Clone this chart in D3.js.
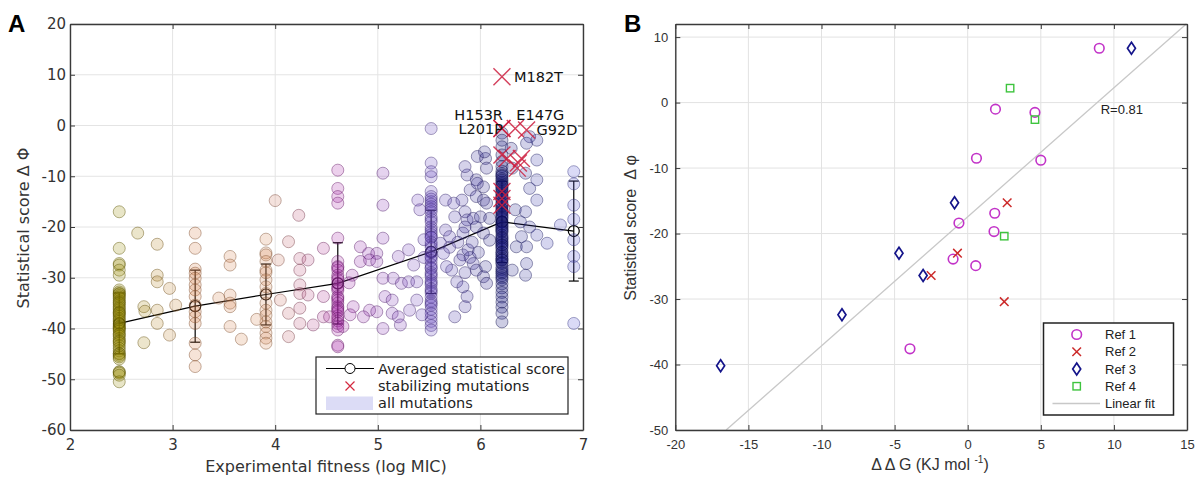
<!DOCTYPE html>
<html>
<head>
<meta charset="utf-8">
<script src="https://cdn.jsdelivr.net/npm/d3@7"></script>
<style>
  body { margin: 0; background: #fff; }
  svg { display: block; }
</style>
</head>
<body>
<div id="chart"></div>
<script>
// ---------- Panel A data ----------
const fitnessColumns = [2.48, 3.22, 3.91, 4.61, 5.52, 6.21, 6.91];
const columnScores = [
  [-17.0, -24.2, -27.2, -27.5, -28.5, -29.5, -32.4, -32.8, -33.1, -33.2, -33.5, -33.8, -34.1, -34.5, -34.8, -35.0, -35.3, -35.7,
   -36.0, -36.3, -36.7, -36.9, -37.0, -37.3, -37.6, -38.0, -38.3, -38.6, -39.0, -39.3, -39.6, -39.8, -40.0, -40.2, -40.5,
   -41.0, -41.2, -41.5, -42.0, -42.4, -42.6, -42.9, -43.4, -43.9, -44.4, -44.9, -45.0, -45.3, -45.6, -46.0, -48.5, -48.6,
   -48.8, -49.2, -50.5],
  [-21.2, -24.2, -28.3, -29.1, -30.1, -31.4, -32.4, -33.7, -35.4, -36.7, -37.7, -39.0, -42.9, -45.2, -47.5],
  [-22.4, -25.1, -25.5, -26.8, -28.5, -29.0, -30.4, -31.8, -33.1, -35.0, -36.4, -37.4, -38.7, -39.6, -40.9, -41.9, -42.9],
  [-8.8, -12.4, -14.0, -15.3, -22.2, -26.8, -27.8, -28.0, -28.5, -29.5, -30.0, -30.4, -31.1, -31.8, -32.1, -32.5, -33.7,
   -34.0, -34.4, -35.0, -35.7, -36.0, -36.4, -36.7, -37.5, -38.0, -38.5, -39.0, -39.6, -40.3, -43.3, -43.6],
  [-0.6, -7.4, -9.1, -10.1, -13.0, -14.0, -14.5, -15.0, -15.5, -16.0, -16.5, -17.0, -18.0, -18.5, -19.0, -20.0, -20.5,
   -21.0, -21.5, -22.0, -22.0, -23.0, -23.5, -24.0, -25.0, -25.0, -25.8, -26.0, -26.6, -27.4, -28.2, -28.0, -29.0, -29.4,
   -29.8, -30.6, -31.0, -31.4, -32.2, -32.6, -33.0, -33.8, -34.6, -35.0, -35.4, -36.2, -37.0, -37.8, -38.6, -39.4, -40.3],
  [-1.5, -2.9, -4.2, -5.8, -7.1, -8.1, -9.0, -9.5, -9.8, -10.0, -10.5, -10.8, -11.2, -11.5, -11.8, -12.0, -12.3, -12.6,
   -13.0, -13.3, -13.7, -14.0, -14.2, -14.5, -14.6, -15.2, -15.5, -15.9, -16.0, -16.5, -16.8, -17.0, -17.1, -17.5, -17.8,
   -18.1, -18.4, -19.0, -19.0, -19.4, -19.7, -19.9, -20.3, -20.5, -20.8, -21.0, -21.6, -22.0, -22.2, -22.5, -22.9, -23.1,
   -23.5, -23.6, -24.0, -24.3, -25.0, -25.0, -25.5, -25.8, -26.2, -26.5, -26.5, -27.0, -27.2, -28.0, -28.4, -28.8, -29.1,
   -29.6, -30.0, -30.4, -31.2, -32.0, -32.9, -33.8, -34.8, -35.8, -37.0, -38.7],
  [-9.1, -11.5, -15.7, -18.5, -22.5, -25.8, -27.8, -39.0]
];
// mutations whose fitness falls between the main MIC columns: [fitness, score]
const betweenPoints = [
  [2.66, -21.2], [2.85, -23.4], [2.85, -29.5], [2.85, -30.8], [2.97, -32.1], [2.72, -35.7], [2.73, -36.6], [2.85, -36.4],
  [2.85, -39.0], [2.97, -41.3], [2.72, -42.8], [3.03, -35.4],
  [3.45, -34.0], [3.56, -25.8], [3.56, -27.5], [3.56, -33.4], [3.56, -35.0], [3.56, -35.7], [3.56, -39.6], [3.67, -42.1],
  [3.82, -38.2],
  [4.00, -14.8], [4.03, -26.5], [4.13, -22.9], [4.13, -37.0], [4.13, -41.6], [4.05, -34.4], [4.23, -17.7], [4.24, -26.2],
  [4.24, -28.5], [4.24, -31.4], [4.24, -33.1], [4.24, -36.0], [4.24, -39.0], [4.32, -26.5], [4.32, -33.4], [4.37, -39.3],
  [4.47, -24.2], [4.47, -33.7], [4.47, -37.7], [4.53, -37.7],
  [4.83, -23.9], [4.91, -25.2], [4.99, -25.2], [5.05, -22.2], [5.20, -25.8], [5.05, -9.4], [5.05, -15.7], [5.39, -14.7],
  [5.41, -16.6], [4.83, -26.8], [4.92, -26.5], [4.99, -26.8], [5.05, -30.1], [5.15, -30.1], [5.23, -31.1], [5.30, -30.8],
  [5.38, -30.8], [5.07, -33.7], [5.14, -34.4], [4.76, -35.7], [4.92, -36.4], [4.99, -36.7], [5.14, -37.0], [5.20, -37.7],
  [5.31, -36.4], [5.43, -37.3], [5.05, -40.0], [5.22, -39.3], [5.38, -34.4], [4.66, -39.6], [4.86, -37.7], [4.73, -37.3],
  [5.30, -24.5], [5.35, -27.5], [5.45, -26.0], [4.75, -29.5], [4.72, -31.0], [5.45, -22.5],
  [5.87, -9.75], [5.96, -10.7], [6.05, -6.5], [6.06, -8.4], [6.03, -12.1], [5.90, -12.7], [5.96, -14.0], [6.03, -14.7],
  [6.06, -15.3], [5.66, -14.7], [5.74, -15.3], [5.82, -14.7], [5.85, -17.0], [5.75, -18.0], [5.87, -18.6], [5.93, -18.3],
  [6.00, -18.0], [6.09, -18.3], [5.96, -20.0], [6.03, -21.2], [6.09, -22.6], [5.83, -21.2], [5.66, -20.6], [5.70, -21.9],
  [5.61, -23.2], [5.72, -28.5], [5.77, -30.8], [5.83, -31.8], [5.87, -33.7], [5.85, -35.7], [5.75, -37.7], [5.93, -27.2],
  [5.96, -28.5], [6.05, -27.8], [6.03, -29.8], [6.06, -31.1], [5.64, -25.2], [5.67, -27.8], [5.83, -25.5], [5.85, -8.1],
  [5.97, -6.1], [6.04, -5.2], [5.97, -11.4], [5.70, -24.0], [5.78, -23.0], [5.88, -24.5], [5.92, -23.0], [5.80, -26.5],
  [5.90, -26.0], [5.98, -25.0], [5.85, -20.0], [5.85, -29.0],
  [6.31, -8.4], [6.44, -9.4], [6.55, -6.8], [6.55, -10.7], [6.48, -12.4], [6.55, -14.7], [6.34, -16.6], [6.44, -17.0],
  [6.39, -19.0], [6.48, -20.0], [6.55, -21.6], [6.40, -21.9], [6.35, -23.9], [6.45, -23.9], [6.65, -23.2], [6.78, -19.6],
  [6.31, -28.5], [6.45, -27.2], [6.44, -29.5], [6.48, -2.2], [6.55, -2.9], [6.45, -3.5], [6.30, -4.5]
];
// averaged score per column and its spread
const averageScore = [-39.0, -35.6, -33.3, -31.1, -24.9, -19.0, -20.8];
const averageSpread = [6.0, 7.1, 6.0, 8.0, 8.2, 8.0, 9.85];
// stabilizing mutations
const namedMutations = ['M182T', 'H153R', 'L201P', 'E147G', 'G92D'];
const namedFitness = [6.21, 6.21, 6.21, 6.34, 6.45];
const namedScore = [9.6, -0.6, -0.6, -0.6, -0.9];
const otherStabFitness = [6.21, 6.26, 6.37, 6.40, 6.36, 6.21, 6.21, 6.21];
const otherStabScore = [-5.8, -6.5, -7.4, -6.5, -8.4, -13.0, -14.4, -15.7];

// ---------- Panel B data ----------
const ref1DDG = [9.0, 1.9, 4.6, 0.6, 5.0, 1.85, -0.6, 1.8, -1.0, 0.55, -3.95];
const ref1Score = [8.3, -1.0, -1.5, -8.5, -8.8, -16.9, -18.4, -19.7, -23.9, -24.9, -37.6];
const ref2DDG = [2.7, -0.7, -2.5, 2.5];
const ref2Score = [-15.3, -23.0, -26.4, -30.4];
const ref3DDG = [11.2, -0.9, -4.7, -3.05, -8.6, -16.9];
const ref3Score = [8.3, -15.3, -23.0, -26.4, -32.4, -40.2];
const ref4DDG = [2.9, 4.6, 2.5];
const ref4Score = [2.2, -2.6, -20.4];
const fitSlope = 1.97, fitIntercept = -17.45, fitR = 0.81;

// ---------- drawing ----------
const svg = d3.select('#chart').append('svg').attr('width', 1195).attr('height', 479);

const xA = d3.scaleLinear().domain([2, 7]).range([70, 583]);
const yA = d3.scaleLinear().domain([-60, 20]).range([430, 24]);
const xB = d3.scaleLinear().domain([-20, 15]).range([675.3, 1187]);
const yB = d3.scaleLinear().domain([-50, 12]).range([430, 24]);

function drawGrid(g, x, y, xt, yt, color) {
  const [l, r] = x.range(), [b, t] = y.range();
  g.append('g').selectAll('line').data(xt).join('line')
    .attr('x1', d => x(d)).attr('x2', d => x(d)).attr('y1', t).attr('y2', b)
    .attr('stroke', color).attr('stroke-width', 1);
  g.append('g').selectAll('line').data(yt).join('line')
    .attr('x1', l).attr('x2', r).attr('y1', d => y(d)).attr('y2', d => y(d))
    .attr('stroke', color).attr('stroke-width', 1);
}

function drawAxes(g, x, y, xt, yt, font, size, pad) {
  const [l, r] = x.range(), [b, t] = y.range();
  const plain = d => String(d);   // hyphen minus, no decimals
  const style = sel => {
    sel.select('.domain').attr('stroke', '#3a3a3a').attr('stroke-width', 1.4);
    sel.selectAll('.tick line').attr('stroke', '#3a3a3a');
    sel.selectAll('text').attr('fill', '#333').style('font-family', font).style('font-size', size + 'px');
  };
  g.append('g').attr('transform', `translate(0,${b})`)
    .call(d3.axisBottom(x).tickValues(xt).tickSize(-5).tickSizeOuter(0).tickPadding(pad[0]).tickFormat(plain)).call(style);
  g.append('g').attr('transform', `translate(0,${t})`)
    .call(d3.axisTop(x).tickValues(xt).tickSize(-5).tickSizeOuter(0).tickFormat('')).call(style);
  g.append('g').attr('transform', `translate(${l},0)`)
    .call(d3.axisLeft(y).tickValues(yt).tickSize(-5).tickSizeOuter(0).tickPadding(pad[1]).tickFormat(plain)).call(style);
  g.append('g').attr('transform', `translate(${r},0)`)
    .call(d3.axisRight(y).tickValues(yt).tickSize(-5).tickSizeOuter(0).tickFormat('')).call(style);
}

function crossPath(s) {
  return `M${-s},${-s}L${s},${s}M${-s},${s}L${s},${-s}`;
}

// ===== Panel A =====
const gA = svg.append('g');
const ticksAx = d3.range(2, 7.01, 1), ticksAy = d3.range(-60, 20.01, 10);
drawGrid(gA, xA, yA, ticksAx, ticksAy, '#e4e4e4');

// averaged line with error bars
const avg = fitnessColumns.map((x, i) => ({ x, v: averageScore[i], s: averageSpread[i] }));
gA.append('path').datum(avg)
  .attr('d', d3.line().x(d => xA(d.x)).y(d => yA(d.v)))
  .attr('fill', 'none').attr('stroke', '#000').attr('stroke-width', 1.2);
const eb = gA.append('g').selectAll('g').data(avg).join('g')
  .attr('stroke', '#000').attr('stroke-width', 1.2);
eb.append('line').attr('x1', d => xA(d.x)).attr('x2', d => xA(d.x))
  .attr('y1', d => yA(d.v + d.s)).attr('y2', d => yA(d.v - d.s));
eb.append('line').attr('x1', d => xA(d.x) - 5).attr('x2', d => xA(d.x) + 5)
  .attr('y1', d => yA(d.v + d.s)).attr('y2', d => yA(d.v + d.s));
eb.append('line').attr('x1', d => xA(d.x) - 5).attr('x2', d => xA(d.x) + 5)
  .attr('y1', d => yA(d.v - d.s)).attr('y2', d => yA(d.v - d.s));
eb.append('circle').attr('cx', d => xA(d.x)).attr('cy', d => yA(d.v)).attr('r', 5.5).attr('fill', 'none');

// all mutations, coloured by fitness (darker edge, light translucent face)
const mutColor = d3.scaleLinear().domain(fitnessColumns)
  .range(['#948a00', '#d4804a', '#d48a58', '#a828a8', '#6446c0', '#18187e', '#5656d4']);
const allPoints = fitnessColumns.flatMap((x, i) => columnScores[i].map(v => ({ x, v })))
  .concat(betweenPoints.map(p => ({ x: p[0], v: p[1] })));
gA.append('g').selectAll('circle').data(allPoints).join('circle')
  .attr('cx', d => xA(d.x)).attr('cy', d => yA(d.v)).attr('r', 6)
  .attr('fill', d => mutColor(d.x)).attr('fill-opacity', 0.22)
  .attr('stroke', d => d3.color(mutColor(d.x)).darker(1.4)).attr('stroke-opacity', 0.45).attr('stroke-width', 1);

// stabilizing mutations
const stab = namedFitness.map((x, i) => ({ x, v: namedScore[i] }))
  .concat(otherStabFitness.map((x, i) => ({ x, v: otherStabScore[i] })));
gA.append('g').selectAll('path').data(stab).join('path')
  .attr('transform', d => `translate(${xA(d.x)},${yA(d.v)})`)
  .attr('d', crossPath(8.5)).attr('stroke', '#cc1e40').attr('stroke-opacity', 0.85)
  .attr('stroke-width', 1.4).attr('fill', 'none');

// labels for named mutations
const labelPlacement = {
  M182T: { dx: 12, dy: 0, anchor: 'start' },
  H153R: { dx: 1, dy: -14, anchor: 'end' },
  L201P: { dx: 1, dy: 0, anchor: 'end' },
  E147G: { dx: 1, dy: -14, anchor: 'start' },
  G92D: { dx: 10, dy: 0, anchor: 'start' }
};
gA.append('g').selectAll('text').data(namedMutations).join('text')
  .attr('x', (d, i) => xA(namedFitness[i]) + labelPlacement[d].dx)
  .attr('y', (d, i) => yA(namedScore[i]) + labelPlacement[d].dy)
  .attr('text-anchor', d => labelPlacement[d].anchor)
  .attr('dominant-baseline', 'central')
  .style('font-family', 'DejaVu Sans').style('font-size', '14.5px').attr('fill', '#111')
  .text(d => d);

drawAxes(gA, xA, yA, ticksAx, ticksAy, 'DejaVu Sans', 15, [9, 4]);

gA.append('text').attr('x', 326).attr('y', 472).attr('text-anchor', 'middle')
  .style('font-family', 'DejaVu Sans').style('font-size', '16px').attr('fill', '#333')
  .text('Experimental fitness (log MIC)');
gA.append('text').attr('transform', 'translate(29,228) rotate(-90)').attr('text-anchor', 'middle')
  .style('font-family', 'DejaVu Sans').style('font-size', '16px').attr('fill', '#333')
  .text('Statistical score \u0394 \u03A6');
gA.append('text').attr('x', 8).attr('y', 32)
  .style('font-family', 'Liberation Sans').style('font-weight', 'bold').style('font-size', '24px')
  .text('A');

// legend A
const legA = gA.append('g');
legA.append('rect').attr('x', 316).attr('y', 357).attr('width', 252).attr('height', 57)
  .attr('fill', '#fff').attr('stroke', '#222').attr('stroke-width', 1.2);
legA.append('line').attr('x1', 326).attr('x2', 374).attr('y1', 368.5).attr('y2', 368.5)
  .attr('stroke', '#000').attr('stroke-width', 1.2);
legA.append('circle').attr('cx', 350).attr('cy', 368.5).attr('r', 5).attr('fill', '#fff').attr('stroke', '#000');
legA.append('path').attr('transform', 'translate(350,386)').attr('d', crossPath(4.5))
  .attr('stroke', '#d42a40').attr('stroke-width', 1.2);
legA.append('rect').attr('x', 326).attr('y', 396.5).attr('width', 47).attr('height', 13.5)
  .attr('fill', '#dcdcf6');
const legAText = ['Averaged statistical score', 'stabilizing mutations', 'all mutations'];
legA.selectAll('text').data(legAText).join('text')
  .attr('x', 378).attr('y', (d, i) => 368.5 + i * 17.4).attr('dominant-baseline', 'central')
  .style('font-family', 'DejaVu Sans').style('font-size', '14.5px').attr('fill', '#222')
  .text(d => d);

// ===== Panel B =====
const gB = svg.append('g');
const ticksBx = d3.range(-20, 15.01, 5), ticksBy = d3.range(-50, 10.01, 10);
drawGrid(gB, xB, yB, ticksBx, ticksBy, '#e2e2e2');

// linear fit, clipped to the axes box
const fitX0 = (yB.domain()[0] - fitIntercept) / fitSlope;
const fitX1 = Math.min(xB.domain()[1], (yB.domain()[1] - fitIntercept) / fitSlope);
gB.append('line')
  .attr('x1', xB(fitX0)).attr('y1', yB(fitSlope * fitX0 + fitIntercept))
  .attr('x2', xB(fitX1)).attr('y2', yB(fitSlope * fitX1 + fitIntercept))
  .attr('stroke', '#c8c8c8').attr('stroke-width', 1.3);
gB.append('text').attr('x', xB(9.1)).attr('y', yB(-1.1)).attr('dominant-baseline', 'central')
  .style('font-family', 'Liberation Sans').style('font-size', '13px').attr('fill', '#222')
  .text('R=' + fitR.toFixed(2));

const toPts = (xs, ys) => xs.map((x, i) => ({ x, v: ys[i] }));
gB.append('g').selectAll('circle').data(toPts(ref1DDG, ref1Score)).join('circle')
  .attr('cx', d => xB(d.x)).attr('cy', d => yB(d.v)).attr('r', 4.8)
  .attr('fill', 'none').attr('stroke', '#c233c8').attr('stroke-width', 1.6);
gB.append('g').selectAll('path').data(toPts(ref2DDG, ref2Score)).join('path')
  .attr('transform', d => `translate(${xB(d.x)},${yB(d.v)})`).attr('d', crossPath(4.3))
  .attr('stroke', '#cc2a2a').attr('stroke-width', 1.5);
const diamond = 'M0,-6L4,0L0,6L-4,0Z';
gB.append('g').selectAll('path').data(toPts(ref3DDG, ref3Score)).join('path')
  .attr('transform', d => `translate(${xB(d.x)},${yB(d.v)})`).attr('d', diamond)
  .attr('fill', 'none').attr('stroke', '#14148a').attr('stroke-width', 1.7);
gB.append('g').selectAll('rect').data(toPts(ref4DDG, ref4Score)).join('rect')
  .attr('x', d => xB(d.x) - 3.7).attr('y', d => yB(d.v) - 3.7).attr('width', 7.4).attr('height', 7.4)
  .attr('fill', 'none').attr('stroke', '#3ec43e').attr('stroke-width', 1.4);

drawAxes(gB, xB, yB, ticksBx, ticksBy, 'Liberation Sans', 13, [10, 7]);

gB.append('text').attr('x', 636).attr('y', 228).attr('transform', 'rotate(-90,636,228)')
  .attr('text-anchor', 'middle')
  .style('font-family', 'Liberation Sans').style('font-size', '16px').attr('fill', '#333')
  .text('Statistical score \u00A0\u0394 \u03C6');
const xlabB = gB.append('text').attr('x', 930).attr('y', 470).attr('text-anchor', 'middle')
  .style('font-family', 'Liberation Sans').style('font-size', '16px').attr('fill', '#333');
xlabB.append('tspan').text('\u0394 \u0394 G (KJ mol ');
xlabB.append('tspan').attr('dy', -7).style('font-size', '10px').text('-1');
xlabB.append('tspan').attr('dy', 7).text(')');
gB.append('text').attr('x', 624).attr('y', 32)
  .style('font-family', 'Liberation Sans').style('font-weight', 'bold').style('font-size', '24px')
  .text('B');

// legend B
const legB = gB.append('g');
legB.append('rect').attr('x', 1043.5).attr('y', 323).attr('width', 130).attr('height', 92)
  .attr('fill', '#fff').attr('stroke', '#222').attr('stroke-width', 1.5);
const legBRows = ['Ref 1', 'Ref 2', 'Ref 3', 'Ref 4', 'Linear fit'];
const rowY = i => 334.5 + i * 17.25;
legB.append('circle').attr('cx', 1076.7).attr('cy', rowY(0)).attr('r', 4.8)
  .attr('fill', 'none').attr('stroke', '#c233c8').attr('stroke-width', 1.6);
legB.append('path').attr('transform', `translate(1076.7,${rowY(1)})`).attr('d', crossPath(4.3))
  .attr('stroke', '#cc2a2a').attr('stroke-width', 1.5);
legB.append('path').attr('transform', `translate(1076.7,${rowY(2)})`).attr('d', diamond)
  .attr('fill', 'none').attr('stroke', '#14148a').attr('stroke-width', 1.7);
legB.append('rect').attr('x', 1073).attr('y', rowY(3) - 3.7).attr('width', 7.4).attr('height', 7.4)
  .attr('fill', 'none').attr('stroke', '#3ec43e').attr('stroke-width', 1.4);
legB.append('line').attr('x1', 1052.5).attr('x2', 1100).attr('y1', rowY(4)).attr('y2', rowY(4))
  .attr('stroke', '#c8c8c8').attr('stroke-width', 1.3);
legB.selectAll('text').data(legBRows).join('text')
  .attr('x', 1105).attr('y', (d, i) => rowY(i)).attr('dominant-baseline', 'central')
  .style('font-family', 'Liberation Sans').style('font-size', '13px').attr('fill', '#222')
  .text(d => d);
</script>
</body>
</html>
